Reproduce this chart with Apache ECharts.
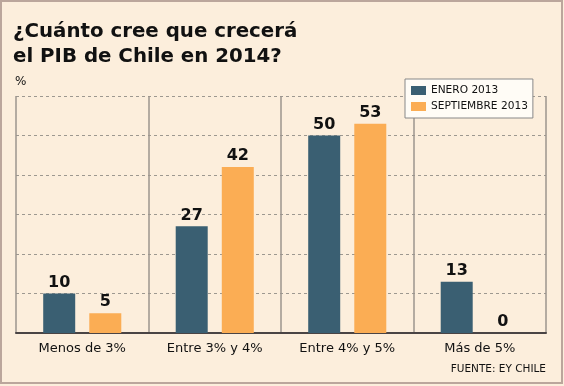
<!DOCTYPE html>
<html><head><meta charset="utf-8">
<script src="https://cdn.jsdelivr.net/npm/echarts@6/dist/echarts.min.js"></script>
<style>html,body{margin:0;padding:0;background:#FCEEDC;}#c{width:564px;height:386px;}</style>
</head><body><div id="c"></div>
<script>
const titleLines = ['¿Cuánto cree que crecerá', 'el PIB de Chile en 2014?'];
const unitLabel = '%';
const sourceLabel = 'FUENTE: EY CHILE';
const categories = ['Menos de 3%', 'Entre 3% y 4%', 'Entre 4% y 5%', 'Más de 5%'];
const seriesNames = ['ENERO 2013', 'SEPTIEMBRE 2013'];
const enero2013 = [10, 27, 50, 13];
const septiembre2013 = [5, 42, 53, 0];
const yMin = 0, yMax = 60, yStep = 10;

const F = 'DejaVu Sans';
const chart = echarts.init(document.getElementById('c'), null, {renderer: 'canvas'});
const label = {show: true, position: 'top', distance: 3, color: '#111', fontFamily: F, fontWeight: 'bold', fontSize: 16};
chart.setOption({
  backgroundColor: '#FCEEDC',
  animation: false,
  title: {
    text: titleLines.join('\n'), left: 13, top: 19, padding: 0,
    textStyle: {fontFamily: F, fontWeight: 'bold', fontSize: 19.8, lineHeight: 25, color: '#111'}
  },
  legend: {
    orient: 'vertical', left: 405, top: 79,
    padding: [6, 5, 6, 6], itemGap: 5, itemWidth: 15, itemHeight: 9,
    backgroundColor: '#FFFCF6', borderColor: '#888', borderWidth: 1, borderRadius: 0,
    icon: 'rect',
    textStyle: {fontFamily: F, fontSize: 10.6, color: '#111', padding: [0, 0, 0, 0]},
    data: seriesNames
  },
  grid: {left: 16, right: 18, top: 96, bottom: 53},
  xAxis: {
    type: 'category', data: categories,
    axisLine: {lineStyle: {color: '#4a4444', width: 2}},
    axisTick: {show: false},
    axisLabel: {fontFamily: F, fontSize: 13, color: '#111', margin: 9},
    splitLine: {show: true, lineStyle: {color: '#9c958e', width: 1.5, type: 'solid'}}
  },
  yAxis: {
    type: 'value', min: yMin, max: yMax, interval: yStep,
    axisLine: {show: false}, axisTick: {show: false}, axisLabel: {show: false},
    splitLine: {lineStyle: {color: '#9d9890', type: [3, 3], width: 1}}
  },
  series: [
    {name: seriesNames[0], type: 'bar', data: enero2013, barWidth: 32, barGap: '44%', itemStyle: {color: '#3A5F72'}, label: label},
    {name: seriesNames[1], type: 'bar', data: septiembre2013, barWidth: 32, itemStyle: {color: '#FBAD54'}, label: label}
  ],
  graphic: [
    {type: 'rect', shape: {x: 1, y: 1, width: 561, height: 382}, style: {fill: 'none', stroke: '#BBA69C', lineWidth: 2}, z: 100},
    {type: 'text', left: 15, top: 76, style: {text: unitLabel, fontFamily: F, fontSize: 12, fill: '#111'}},
    {type: 'text', right: 18, top: 364, style: {text: sourceLabel, fontFamily: F, fontSize: 10.5, fill: '#111'}}
  ]
});
</script></body></html>
